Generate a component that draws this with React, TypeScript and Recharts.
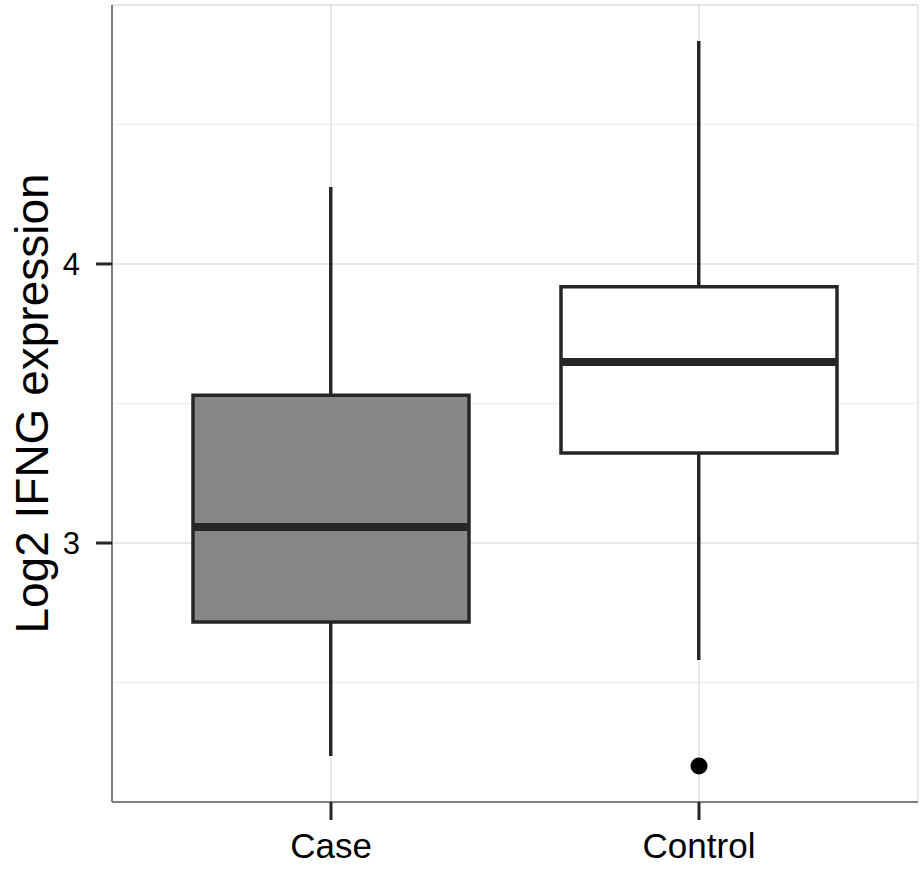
import React from "react";
import {
  ComposedChart,
  Bar,
  Scatter,
  XAxis,
  YAxis,
  CartesianGrid,
  Cell,
} from "recharts";

// ---- data ----
const categories = ["Case", "Control"];
const whiskerLow = [2.237, 2.581];
const q1 = [2.717, 3.323];
const medians = [3.057, 3.649];
const q3 = [3.53, 3.918];
const whiskerHigh = [4.276, 4.799];
const outlierValues: (number | null)[] = [null, 2.201];
const fills = ["#878787", "#ffffff"];
const yDomain = [2.072, 4.928];
const yTicks = [3, 4];
const minorTicks = [2.5, 3.5, 4.5];
const yLabel = "Log2 IFNG expression";

const data = categories.map((name, i) => ({
  name,
  whisk: [whiskerLow[i], whiskerHigh[i]],
  box: [q1[i], q3[i]],
  median: medians[i],
  outlier: outlierValues[i],
}));

const BOX_W = 276;
const DARK = "#262626";
const BORDER = "#7f7f7f";
const FONT = "'Liberation Sans', Arial, Helvetica, sans-serif";

const MedianShape = (props: any) => {
  const { cx, cy } = props;
  if (cx == null || cy == null || isNaN(cy)) return null;
  return (
    <line
      x1={cx - BOX_W / 2}
      x2={cx + BOX_W / 2}
      y1={cy}
      y2={cy}
      stroke={DARK}
      strokeWidth={8}
    />
  );
};

const OutlierShape = (props: any) => {
  const { cx, cy, payload } = props;
  if (cx == null || cy == null || isNaN(cy) || payload?.outlier == null) return null;
  return <circle cx={cx} cy={cy} r={8.5} fill="#000" />;
};

const YTitle = (props: any) => {
  const vb = props.viewBox || {};
  const cy = vb.y + vb.height / 2;
  return (
    <text
      x={48}
      y={cy}
      transform={`rotate(-90, 48, ${cy})`}
      textAnchor="middle"
      fontFamily={FONT}
      fontSize={46}
      fill="#000"
    >
      {yLabel}
    </text>
  );
};

export default function App() {
  return (
    <div style={{ position: "absolute", left: 0, top: 0, background: "#fff" }}>
      <ComposedChart
        width={922}
        height={871}
        data={data}
        margin={{ top: 5, right: 4, bottom: 0, left: 0 }}
      >
        <CartesianGrid
          yAxisId="minor"
          vertical={false}
          stroke="#eeeeee"
          strokeWidth={1.5}
        />
        <CartesianGrid stroke="#e0e0e0" strokeWidth={1.5} />
        <XAxis
          dataKey="name"
          type="category"
          allowDuplicatedCategory={false}
          padding={{ left: 35, right: 35 }}
          height={69}
          tickSize={18}
          tickMargin={13}
          axisLine={{ stroke: BORDER, strokeWidth: 2 }}
          tickLine={{ stroke: DARK, strokeWidth: 3 }}
          tick={{ fontFamily: FONT, fontSize: 35, fill: "#000" }}
        />
        <XAxis
          xAxisId="w"
          dataKey="name"
          type="category"
          allowDuplicatedCategory={false}
          padding={{ left: 35, right: 35 }}
          hide
        />
        <XAxis
          xAxisId="top"
          orientation="top"
          dataKey="name"
          type="category"
          allowDuplicatedCategory={false}
          height={0}
          tick={false}
          tickLine={false}
          axisLine={{ stroke: BORDER, strokeWidth: 2 }}
        />
        <YAxis
          type="number"
          domain={yDomain}
          ticks={yTicks}
          allowDataOverflow
          width={112}
          tickSize={16}
          tickMargin={16}
          axisLine={{ stroke: BORDER, strokeWidth: 2 }}
          tickLine={{ stroke: DARK, strokeWidth: 3 }}
          tick={{ fontFamily: FONT, fontSize: 31, fill: "#000" }}
          label={<YTitle />}
        />
        <YAxis
          yAxisId="minor"
          type="number"
          domain={yDomain}
          ticks={minorTicks}
          allowDataOverflow
          hide
        />
        <YAxis
          yAxisId="right"
          orientation="right"
          type="number"
          domain={yDomain}
          allowDataOverflow
          width={0}
          tick={false}
          tickLine={false}
          axisLine={{ stroke: BORDER, strokeWidth: 2 }}
        />
        <Bar
          xAxisId="w"
          dataKey="whisk"
          barSize={3.5}
          fill={DARK}
          isAnimationActive={false}
        />
        <Bar
          dataKey="box"
          barSize={BOX_W}
          stroke={DARK}
          strokeWidth={3.5}
          isAnimationActive={false}
        >
          {data.map((d, i) => (
            <Cell key={d.name} fill={fills[i]} />
          ))}
        </Bar>
        <Scatter
          dataKey="median"
          shape={<MedianShape />}
          isAnimationActive={false}
        />
        <Scatter
          dataKey="outlier"
          shape={<OutlierShape />}
          isAnimationActive={false}
        />
      </ComposedChart>
    </div>
  );
}
